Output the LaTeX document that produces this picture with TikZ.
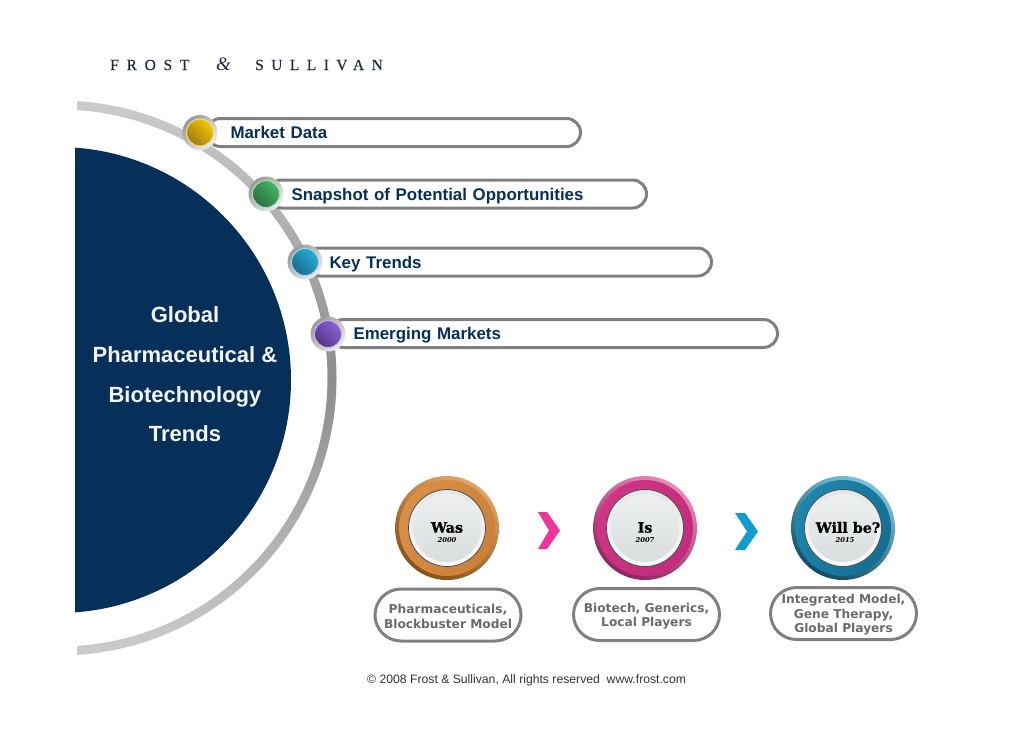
\documentclass[tikz,border=0pt]{standalone}
\usepackage{fontspec}
\setmainfont{Liberation Sans}
\newfontfamily\logofontA[LetterSpace=50,FakeBold=0.25]{Liberation Serif}
\newfontfamily\logofontB[LetterSpace=48,FakeBold=0.25]{Liberation Serif}
\newfontfamily\ampfont{Liberation Serif}
\newfontfamily\capsfont{DejaVu Sans}
\newfontfamily\btnfont[BoldFeatures={FakeBold=1.2}]{DejaVu Serif}
\definecolor{navy}{HTML}{06305A}
\definecolor{barline}{HTML}{808080}
\definecolor{logoink}{HTML}{1E2A3C}
\definecolor{capgray}{HTML}{6A6A6A}
\definecolor{titlewhite}{HTML}{F2F4F6}
\definecolor{haloA}{HTML}{9A9A9A}
\definecolor{haloB}{HTML}{EDEDED}
\definecolor{faceA}{HTML}{E2E6E6}
\definecolor{faceB}{HTML}{FAFAFA}
\definecolor{glowA}{HTML}{EEF0F0}
\definecolor{glowB}{HTML}{D8DDDD}
\definecolor{yelA}{HTML}{F2C800}\definecolor{yelB}{HTML}{A07A12}\definecolor{yelE}{HTML}{F4E07A}
\definecolor{grnA}{HTML}{46B566}\definecolor{grnB}{HTML}{2A6E42}\definecolor{grnE}{HTML}{A9D9B5}
\definecolor{bluA}{HTML}{25ADD6}\definecolor{bluB}{HTML}{1B6A8C}\definecolor{bluE}{HTML}{9FD5E6}
\definecolor{vioA}{HTML}{8E63D2}\definecolor{vioB}{HTML}{55348C}\definecolor{vioE}{HTML}{C7B3E6}
\definecolor{orA}{HTML}{E3A564}\definecolor{orB}{HTML}{855018}\definecolor{orC}{HTML}{CB8038}\definecolor{orD}{HTML}{D98F45}
\definecolor{piA}{HTML}{EA88B4}\definecolor{piB}{HTML}{8E2560}\definecolor{piC}{HTML}{C22C7C}\definecolor{piD}{HTML}{CE3584}
\definecolor{teA}{HTML}{7CC2DC}\definecolor{teB}{HTML}{144A62}\definecolor{teC}{HTML}{146E94}\definecolor{teD}{HTML}{1D86AC}
\definecolor{chevP}{HTML}{F0359A}
\definecolor{chevB}{HTML}{0F9CD0}
\tikzset{
  barpill/.style={draw=barline,line width=3pt,fill=white,rounded corners=14pt,minimum height=28pt,inner xsep=24pt,inner ysep=0pt,anchor=west,align=left,text height=15.6pt,text depth=3.6pt,font=\fontsize{16.9}{18}\selectfont\bfseries,text=navy},
  capbox/.style={draw=barline,line width=3pt,fill=white,rounded corners=26pt,minimum width=146pt,minimum height=52pt,inner sep=0pt},
  captext/.style={inner sep=0pt,align=center,text=capgray,font=\capsfont\fontsize{12.2}{14.4}\selectfont\bfseries},
  titletext/.style={text=titlewhite,font=\fontsize{22}{24}\selectfont\bfseries,inner sep=0pt,text height=15.8pt,text depth=0pt},
  knob/.style n args={3}{circle,inner sep=0pt,minimum size=27pt,draw=#3,line width=1pt,shading=axis,left color=#1,right color=#2,shading angle=-45},
  halo/.style={circle,inner sep=0pt,minimum size=35pt,shading=axis,left color=haloA,right color=haloB,shading angle=45},
  btnouter/.style n args={2}{circle,inner sep=0pt,minimum size=104pt,shading=axis,left color=#1,right color=#2,shading angle=-30},
  btnmid/.style n args={2}{circle,inner sep=0pt,minimum size=96pt,shading=axis,left color=#1,right color=#2,shading angle=-120},
  btnface/.style={circle,inner sep=0pt,minimum size=77pt,draw=black!70,line width=0.8pt,shading=axis,top color=faceA,bottom color=faceB},
  btnglow/.style={circle,inner sep=0pt,minimum size=68pt,top color=glowA,bottom color=glowB},
  btnlabel/.style={inner sep=0pt,align=center,text=black,font=\btnfont\fontsize{14.3}{15}\selectfont\bfseries},
  btnyear/.style={inner sep=0pt,text=black,font=\btnfont\fontsize{6.8}{7}\selectfont\bfseries\itshape}
}
\begin{document}
\begin{tikzpicture}[x=1pt,y=-1pt]
\useasboundingbox (0,0) rectangle (1030,728);
\fill[white] (0,0) rectangle (1030,728);
% logo
\node[inner sep=0pt,anchor=west,text=logoink,font=\logofontA\fontsize{15.5}{17}\selectfont] (logoa) at (110,65) {FROST};
\node[inner sep=0pt,anchor=west,text=logoink,font=\ampfont\fontsize{19}{22}\selectfont\itshape] (logob) at (216,64) {\&};
\node[inner sep=0pt,anchor=west,text=logoink,font=\logofontB\fontsize{15.5}{17}\selectfont] (logoc) at (255,65) {SULLIVAN};
% ring
\begin{scope}
\clip (77,90) rectangle (350,670);
\shade[even odd rule,top color=black!20,bottom color=black!20,middle color=black!45]
  (59,378) circle[radius=277.5] (59,378) circle[radius=268.5];
\end{scope}
% disc
\begin{scope}
\clip (75,130) rectangle (300,630);
\fill[navy] (58,380) circle[radius=233];
\end{scope}
\node[titletext] (t1) at (185,315) {Global};
\node[titletext] (t2) at (185,355) {Pharmaceutical \&};
\node[titletext] (t3) at (185,395) {Biotechnology};
\node[titletext] (t4) at (185,434) {Trends};
% bars
\node[barpill,text width=326pt] (bar1) at (205,132.5) {Market Data};
\node[barpill,text width=331pt] (bar2) at (266,194) {Snapshot of Potential Opportunities};
\node[barpill,text width=358pt] (bar3) at (304,262) {Key Trends};
\node[barpill,text width=400pt] (bar4) at (328,333.5) {Emerging Markets};
% knobs
\node[halo] (h1) at (200,132.5) {};
\node[knob={yelA}{yelB}{yelE}] (k1) at (200,132.5) {};
\node[halo] (h2) at (266,194) {};
\node[knob={grnA}{grnB}{grnE}] (k2) at (266,194) {};
\node[halo] (h3) at (305,262) {};
\node[knob={bluA}{bluB}{bluE}] (k3) at (305,262) {};
\node[halo] (h4) at (328,334) {};
\node[knob={vioA}{vioB}{vioE}] (k4) at (328,334) {};
% buttons
\node[btnouter={orA}{orB}] (o1) at (447,528) {};
\node[btnmid={orC}{orD}] (m1) at (o1) {};
\node[btnface] (f1) at (o1) {};
\node[btnglow] (g1) at (o1) {};
\node[btnlabel] (l1) at (447,527.5) {Was};
\node[btnyear] (y1) at (447,540.5) {2000};

\node[btnouter={piA}{piB}] (o2) at (645,528) {};
\node[btnmid={piC}{piD}] (m2) at (o2) {};
\node[btnface] (f2) at (o2) {};
\node[btnglow] (g2) at (o2) {};
\node[btnlabel] (l2) at (645,527.5) {Is};
\node[btnyear] (y2) at (645,540.5) {2007};

\node[btnouter={teA}{teB}] (o3) at (843,528) {};
\node[btnmid={teC}{teD}] (m3) at (o3) {};
\node[btnface] (f3) at (o3) {};
\node[btnglow] (g3) at (o3) {};
\node[btnlabel] (l3) at (848,527.5) {Will be?};
\node[btnyear] (y3) at (845,540.5) {2015};
% chevrons
\fill[chevP] (538,512) -- (547,512) -- (560,530.5) -- (547,549) -- (538,549) -- (549,530.5) -- cycle;
\fill[chevB] (735,513) -- (745,513) -- (758,531.5) -- (745,550) -- (735,550) -- (747,531.5) -- cycle;
% captions
\node[capbox] (c1) at (448,615) {};
\node[captext,yshift=-1.5pt] (ct1) at (c1) {Pharmaceuticals,\\Blockbuster Model};
\node[capbox] (c2) at (646.5,614.5) {};
\node[captext,yshift=-1.5pt] (ct2) at (c2) {Biotech, Generics,\\Local Players};
\node[capbox] (c3) at (843.5,613.5) {};
\node[captext,yshift=-1.5pt] (ct3) at (c3) {Integrated Model,\\Gene Therapy,\\Global Players};
% footer
\node[inner sep=0pt,anchor=west,text=black!80,font=\fontsize{12.2}{14}\selectfont] (foot) at (367,680.5) {© 2008 Frost \& Sullivan, All rights reserved\ \ www.frost.com};
\end{tikzpicture}
\end{document}
